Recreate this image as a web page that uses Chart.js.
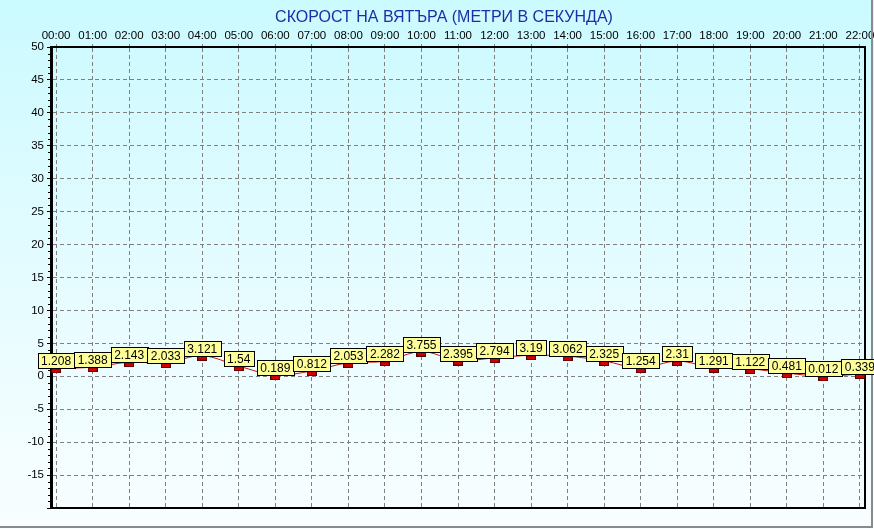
<!DOCTYPE html>
<html>
<head>
<meta charset="utf-8">
<script src="https://cdn.jsdelivr.net/npm/chart.js@4/dist/chart.umd.min.js"></script>
<style>
  html, body { margin: 0; padding: 0; }
  body { width: 874px; height: 529px; overflow: hidden; }
  #wrap { position: relative; width: 874px; height: 529px;
          background: linear-gradient(to bottom, #cbfaff 0%, #e6fcff 55%, #f9feff 100%); }
  canvas { display: block; }
</style>
</head>
<body>
<div id="wrap"><canvas id="windChart" width="874" height="529"></canvas></div>
<script>
        // Heures (axe du haut)
        const hours = ['00:00', '01:00', '02:00', '03:00', '04:00', '05:00', '06:00', '07:00',
                       '08:00', '09:00', '10:00', '11:00', '12:00', '13:00', '14:00', '15:00',
                       '16:00', '17:00', '18:00', '19:00', '20:00', '21:00', '22:00'];
        // Vitesse du vent (m/s)
        const windSpeed = [1.208, 1.388, 2.143, 2.033, 3.121, 1.54, 0.189, 0.812,
                           2.053, 2.282, 3.755, 2.395, 2.794, 3.19, 3.062, 2.325,
                           1.254, 2.31, 1.291, 1.122, 0.481, 0.012, 0.339];
        const yMin = -20;
        const yMax = 50;
        const yStep = 5;

        const FONT = '"Liberation Sans", Arial, sans-serif';
        Chart.defaults.font.family = FONT;
        Chart.defaults.font.size = 11.5;
        Chart.defaults.color = '#000';

        // Petit marqueur rouge (le haut du rectangle tombe sur la valeur)
        function makeMarker() {
            const c = document.createElement('canvas');
            c.width = 10; c.height = 10;
            const g = c.getContext('2d');
            g.fillStyle = '#d00000';
            g.fillRect(0, 5, 10, 5);
            g.strokeStyle = '#5a0000';
            g.lineWidth = 1;
            g.strokeRect(0.5, 5.5, 9, 4);
            return c;
        }

        // Cadre + petites graduations (sous les étiquettes)
        const framePlugin = {
            id: 'frame',
            beforeDatasetsDraw(chart) {
                const ctx = chart.ctx;
                const a = chart.chartArea;
                const y = chart.scales.y;
                ctx.save();
                // graduations mineures
                ctx.strokeStyle = '#000';
                ctx.lineWidth = 1;
                for (let v = yMin; v <= yMax; v++) {
                    if (v % yStep === 0) continue;
                    const py = Math.round(y.getPixelForValue(v)) + 0.5;
                    ctx.beginPath();
                    ctx.moveTo(a.left - 3, py);
                    ctx.lineTo(a.left, py);
                    ctx.stroke();
                }
                // bords droit et bas
                ctx.lineWidth = 2;
                ctx.beginPath();
                ctx.moveTo(a.right, a.top);
                ctx.lineTo(a.right, a.bottom);
                ctx.lineTo(a.left, a.bottom);
                ctx.stroke();
                // bordure de la fenêtre
                ctx.fillStyle = '#8a8a8a';
                ctx.fillRect(chart.width - 3, 0, 2, chart.height - 1);
                ctx.fillRect(0, chart.height - 3, chart.width - 1, 2);
                ctx.restore();
            }
        };

        // Étiquettes jaunes au-dessus des points
        const valueLabels = {
            id: 'valueLabels',
            afterDraw(chart) {
                const ctx = chart.ctx;
                const meta = chart.getDatasetMeta(0);
                ctx.save();
                ctx.font = '12px ' + FONT;
                ctx.textAlign = 'center';
                ctx.textBaseline = 'middle';
                meta.data.forEach((pt, i) => {
                    const txt = String(windSpeed[i]);
                    const w = Math.round(ctx.measureText(txt).width) + 7;
                    const h = 15;
                    const x = Math.round(pt.x - w / 2) + 0.5;
                    const yTop = Math.round(pt.y - h) + 0.5;
                    ctx.fillStyle = '#ffff99';
                    ctx.fillRect(x, yTop, w, h);
                    ctx.strokeStyle = '#000';
                    ctx.lineWidth = 1;
                    ctx.strokeRect(x, yTop, w, h);
                    ctx.fillStyle = '#000';
                    ctx.fillText(txt, pt.x, yTop + h / 2 + 0.5);
                });
                ctx.restore();
            }
        };

        const windChart = new Chart(document.getElementById('windChart').getContext('2d'), {
            type: 'line',
            data: {
                datasets: [{
                    data: windSpeed.map((v, i) => ({ x: i, y: v })),
                    borderColor: '#c81010',
                    borderWidth: 1,
                    tension: 0.35,
                    pointStyle: makeMarker(),
                    pointRadius: 5,
                    pointHoverRadius: 5,
                    fill: false
                }]
            },
            options: {
                responsive: false,
                animation: false,
                events: [],
                layout: { padding: { left: 23, right: 9, top: 0, bottom: 21 } },
                plugins: {
                    legend: { display: false },
                    tooltip: { enabled: false },
                    title: {
                        display: true,
                        text: 'СКОРОСТ НА ВЯТЪРА (МЕТРИ В СЕКУНДА)',
                        color: '#1f2ea6',
                        font: { size: 16, weight: 'normal', lineHeight: 1.2 },
                        padding: { top: 8, bottom: 0 }
                    }
                },
                scales: {
                    x: {
                        type: 'linear',
                        position: 'top',
                        min: -0.14,
                        max: 22.14,
                        ticks: {
                            stepSize: 1,
                            includeBounds: false,
                            maxRotation: 0,
                            autoSkip: false,
                            padding: 1,
                            callback: v => hours[v] !== undefined ? hours[v] : null
                        },
                        grid: {
                            color: '#808080',
                            tickLength: 3,
                            tickColor: '#808080'
                        },
                        border: { display: true, color: '#000', width: 2, dash: [4, 3] },
                        afterFit(scale) {
                            scale.height = 47 - 27.2;
                            scale.paddingLeft = 0;
                            scale.paddingRight = 0;
                        }
                    },
                    y: {
                        min: yMin,
                        max: yMax,
                        ticks: {
                            stepSize: yStep,
                            padding: 3,
                            callback: v => v === yMin ? '' : v
                        },
                        grid: {
                            color: '#808080',
                            tickLength: 4,
                            tickColor: '#000'
                        },
                        border: { display: true, color: '#000', width: 3, dash: [4, 3] },
                        afterFit(scale) {
                            scale.width = 28;
                            scale.paddingTop = 0;
                            scale.paddingBottom = 0;
                        }
                    }
                }
            },
            plugins: [framePlugin, valueLabels]
        });
</script>
</body>
</html>
